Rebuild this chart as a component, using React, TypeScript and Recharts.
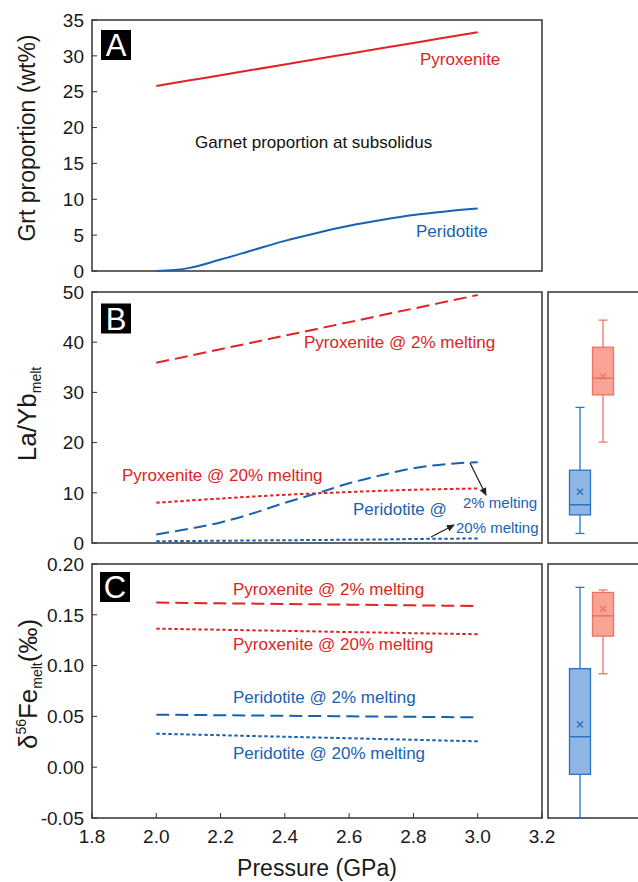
import React from 'react';
import { LineChart, Line, XAxis, YAxis, ReferenceArea, ComposedChart, Bar } from 'recharts';

// ---------- data ----------
const pressure = [2.0, 2.1, 2.2, 2.3, 2.4, 2.5, 2.6, 2.7, 2.8, 2.9, 3.0];
const xTicks = [1.8, 2.0, 2.2, 2.4, 2.6, 2.8, 3.0, 3.2];

// Panel A: garnet proportion at subsolidus (wt%)
const grtPyroxenite = [25.8, 26.55, 27.3, 28.05, 28.8, 29.55, 30.3, 31.05, 31.8, 32.55, 33.3];
const grtPeridotite = [0.0, 0.4, 1.6, 2.9, 4.2, 5.3, 6.3, 7.1, 7.8, 8.3, 8.7];
const yTicksA = [0, 5, 10, 15, 20, 25, 30, 35];

// Panel B: La/Yb of melt
const laybPyx2 = [35.9, 37.25, 38.6, 39.95, 41.3, 42.65, 44.0, 45.35, 46.7, 48.05, 49.4];
const laybPyx20 = [8.0, 8.45, 8.85, 9.25, 9.6, 9.9, 10.15, 10.4, 10.6, 10.75, 10.85];
const laybPer2 = [1.7, 2.8, 4.1, 5.9, 8.0, 9.9, 11.9, 13.5, 14.9, 15.7, 16.1];
const laybPer20 = [0.35, 0.4, 0.45, 0.5, 0.55, 0.6, 0.65, 0.7, 0.8, 0.85, 0.9];
const yTicksB = [0, 10, 20, 30, 40, 50];

// Panel C: d56Fe of melt
const fePyx2 = [0.162, 0.1617, 0.1613, 0.161, 0.1607, 0.1603, 0.16, 0.1597, 0.1593, 0.159, 0.1587];
const fePyx20 = [0.1364, 0.1358, 0.1353, 0.1347, 0.1342, 0.1336, 0.133, 0.1325, 0.1319, 0.1314, 0.1308];
const fePer2 = [0.0517, 0.0514, 0.0512, 0.0509, 0.0506, 0.0504, 0.0501, 0.0498, 0.0496, 0.0493, 0.0491];
const fePer20 = [0.033, 0.0322, 0.0315, 0.0307, 0.03, 0.0292, 0.0285, 0.0277, 0.027, 0.0262, 0.0255];
const yTicksC = [-0.05, 0, 0.05, 0.1, 0.15, 0.2];

// Box plots (natural samples): Peridotite-derived (blue), Pyroxenite-derived (red)
const boxGroups = ['Peridotite', 'Pyroxenite'];
const laybBoxMin = [1.9, 20.1];
const laybBoxQ1 = [5.6, 29.5];
const laybBoxMedian = [7.6, 32.8];
const laybBoxQ3 = [14.5, 39.0];
const laybBoxMax = [27.0, 44.4];
const laybBoxMean = [10.2, 33.2];

const feBoxMin = [-0.05, 0.092];
const feBoxQ1 = [-0.007, 0.129];
const feBoxMedian = [0.030, 0.149];
const feBoxQ3 = [0.097, 0.172];
const feBoxMax = [0.177, 0.1745];
const feBoxMean = [0.042, 0.156];

// ---------- styles ----------
const RED = '#e02424';
const BLUE = '#1862b2';
const FRAME = '#333';
const FONT = '"Liberation Sans", Arial, sans-serif';
const boxStyles = [
  { fill: '#8fb6e3', stroke: '#2a72c2' },
  { fill: '#f9a394', stroke: '#ee7462' },
];

// ---------- tables ----------
const tableA = pressure.map((p, i) => ({ p, pyx: grtPyroxenite[i], per: grtPeridotite[i] }));
const tableB = pressure.map((p, i) => ({
  p, pyx2: laybPyx2[i], pyx20: laybPyx20[i], per2: laybPer2[i], per20: laybPer20[i],
}));
const tableC = pressure.map((p, i) => ({
  p, pyx2: fePyx2[i], pyx20: fePyx20[i], per2: fePer2[i], per20: fePer20[i],
}));
const makeBox = (mn: number[], q1: number[], md: number[], q3: number[], mx: number[], mean: number[]) =>
  boxGroups.map((g, i) => ({
    idx: i, group: g, range: [mn[i], mx[i]], min: mn[i], q1: q1[i], med: md[i], q3: q3[i], max: mx[i], mean: mean[i],
  }));
const boxTableB = makeBox(laybBoxMin, laybBoxQ1, laybBoxMedian, laybBoxQ3, laybBoxMax, laybBoxMean);
const boxTableC = makeBox(feBoxMin, feBoxQ1, feBoxMedian, feBoxQ3, feBoxMax, feBoxMean);

const BoxShape = (props: any) => {
  const { x, y, width, height } = props;
  const d = props.payload || props;
  const st = boxStyles[d.idx];
  const top = Math.min(y, y + height);
  const h = Math.abs(height);
  const py = (v: number) => top + (h * (d.max - v)) / (d.max - d.min);
  const cx = x + width / 2;
  const cap = 4.5;
  const m = 3;
  return (
    <g>
      <line x1={cx} x2={cx} y1={py(d.max)} y2={py(d.q3)} stroke={st.stroke} strokeWidth={1.3} />
      <line x1={cx} x2={cx} y1={py(d.q1)} y2={py(d.min)} stroke={st.stroke} strokeWidth={1.3} />
      <line x1={cx - cap} x2={cx + cap} y1={py(d.max)} y2={py(d.max)} stroke={st.stroke} strokeWidth={1.3} />
      <line x1={cx - cap} x2={cx + cap} y1={py(d.min)} y2={py(d.min)} stroke={st.stroke} strokeWidth={1.3} />
      <rect x={x} y={py(d.q3)} width={width} height={py(d.q1) - py(d.q3)} fill={st.fill} stroke={st.stroke} strokeWidth={1.3} />
      <line x1={x} x2={x + width} y1={py(d.med)} y2={py(d.med)} stroke={st.stroke} strokeWidth={1.5} />
      <line x1={cx - m} x2={cx + m} y1={py(d.mean) - m} y2={py(d.mean) + m} stroke={st.stroke} strokeWidth={1.3} />
      <line x1={cx - m} x2={cx + m} y1={py(d.mean) + m} y2={py(d.mean) - m} stroke={st.stroke} strokeWidth={1.3} />
    </g>
  );
};

const tickStyle = { fontSize: 19, fill: '#1a1a1a' };
const LONG = '13 6';
const SHORT = '3.5 2.5';
const boxXDomain = [-1.391, 2.87];

export default function App() {
  return (
    <div
      style={{
        position: 'absolute', left: 0, top: 0, width: 638, height: 882, overflow: 'hidden',
        background: '#fff', fontFamily: FONT,
      }}
    >
      {/* Panel A */}
      <div style={{ position: 'absolute', left: 0, top: 0 }}>
        <LineChart width={560} height={290} data={tableA} margin={{ top: 20, right: 18, bottom: 0, left: 0 }}>
          <XAxis dataKey="p" type="number" domain={[1.8, 3.2]} ticks={xTicks} interval={0} height={19}
            tick={false} tickSize={-5} axisLine={false} tickLine={{ stroke: FRAME }} />
          <YAxis type="number" domain={[0, 35]} ticks={yTicksA} interval={0} width={92} tickSize={-5}
            tickMargin={13} axisLine={false} tick={tickStyle} tickLine={{ stroke: FRAME }} />
          <ReferenceArea y1={0} y2={35} fill="none" stroke={FRAME} strokeWidth={1.5} />
          <Line dataKey="pyx" type="monotone" stroke={RED} strokeWidth={2} dot={false} isAnimationActive={false} />
          <Line dataKey="per" type="monotone" stroke={BLUE} strokeWidth={2} dot={false} isAnimationActive={false} />
        </LineChart>
      </div>

      {/* Panel B */}
      <div style={{ position: 'absolute', left: 0, top: 280 }}>
        <LineChart width={560} height={281} data={tableB} margin={{ top: 12, right: 18, bottom: 0, left: 0 }}>
          <XAxis dataKey="p" type="number" domain={[1.8, 3.2]} ticks={xTicks} interval={0} height={18}
            tick={false} tickSize={-5} axisLine={false} tickLine={{ stroke: FRAME }} />
          <YAxis type="number" domain={[0, 50]} ticks={yTicksB} interval={0} width={92} tickSize={-5}
            tickMargin={13} axisLine={false} tick={tickStyle} tickLine={{ stroke: FRAME }} />
          <ReferenceArea y1={0} y2={50} fill="none" stroke={FRAME} strokeWidth={1.5} />
          <Line dataKey="pyx2" type="monotone" stroke={RED} strokeWidth={2} strokeDasharray={LONG} dot={false} isAnimationActive={false} />
          <Line dataKey="pyx20" type="monotone" stroke={RED} strokeWidth={2} strokeDasharray={SHORT} dot={false} isAnimationActive={false} />
          <Line dataKey="per2" type="monotone" stroke={BLUE} strokeWidth={2} strokeDasharray={LONG} dot={false} isAnimationActive={false} />
          <Line dataKey="per20" type="monotone" stroke={BLUE} strokeWidth={2} strokeDasharray={SHORT} dot={false} isAnimationActive={false} />
        </LineChart>
      </div>

      {/* Panel C */}
      <div style={{ position: 'absolute', left: 0, top: 552 }}>
        <LineChart width={560} height={330} data={tableC} margin={{ top: 12, right: 18, bottom: 0, left: 0 }}>
          <XAxis dataKey="p" type="number" domain={[1.8, 3.2]} ticks={xTicks} interval={0} height={64}
            tickSize={-5} tickMargin={17} axisLine={false} tick={tickStyle} tickLine={{ stroke: FRAME }}
            tickFormatter={(v: number) => v.toFixed(1)}
            label={{ value: 'Pressure (GPa)', position: 'insideBottom', offset: 6, fontSize: 23, fill: '#1a1a1a' }} />
          <YAxis type="number" domain={[-0.05, 0.2]} ticks={yTicksC} interval={0} width={92} tickSize={-5}
            tickMargin={13} axisLine={false} tick={tickStyle} tickLine={{ stroke: FRAME }}
            tickFormatter={(v: number) => v.toFixed(2)} />
          <ReferenceArea y1={-0.05} y2={0.2} fill="none" stroke={FRAME} strokeWidth={1.5} />
          <Line dataKey="pyx2" type="monotone" stroke={RED} strokeWidth={2} strokeDasharray={LONG} dot={false} isAnimationActive={false} />
          <Line dataKey="pyx20" type="monotone" stroke={RED} strokeWidth={2} strokeDasharray={SHORT} dot={false} isAnimationActive={false} />
          <Line dataKey="per2" type="monotone" stroke={BLUE} strokeWidth={2} strokeDasharray={LONG} dot={false} isAnimationActive={false} />
          <Line dataKey="per20" type="monotone" stroke={BLUE} strokeWidth={2} strokeDasharray={SHORT} dot={false} isAnimationActive={false} />
        </LineChart>
      </div>

      {/* Box panel B */}
      <div style={{ position: 'absolute', left: 540, top: 280 }}>
        <ComposedChart width={110} height={281} data={boxTableB} margin={{ top: 12, right: 4, bottom: 18, left: 8 }}>
          <XAxis dataKey="idx" type="number" domain={boxXDomain} hide allowDataOverflow />
          <YAxis type="number" domain={[0, 50]} hide />
          <ReferenceArea y1={0} y2={50} fill="none" stroke={FRAME} strokeWidth={1.5} />
          <Bar dataKey="range" barSize={21} shape={BoxShape} isAnimationActive={false} />
        </ComposedChart>
      </div>

      {/* Box panel C */}
      <div style={{ position: 'absolute', left: 540, top: 552 }}>
        <ComposedChart width={110} height={330} data={boxTableC} margin={{ top: 12, right: 4, bottom: 64, left: 8 }}>
          <XAxis dataKey="idx" type="number" domain={boxXDomain} hide allowDataOverflow />
          <YAxis type="number" domain={[-0.05, 0.2]} hide />
          <ReferenceArea y1={-0.05} y2={0.2} fill="none" stroke={FRAME} strokeWidth={1.5} />
          <Bar dataKey="range" barSize={21} shape={BoxShape} isAnimationActive={false} />
        </ComposedChart>
      </div>

      {/* Annotations */}
      <svg width={638} height={882} style={{ position: 'absolute', left: 0, top: 0, pointerEvents: 'none', fontFamily: FONT }}>
        <defs>
          <marker id="ah" markerWidth={8} markerHeight={8} refX={7} refY={4} orient="auto" markerUnits="userSpaceOnUse">
            <path d="M0,0.5 L8,4 L0,7.5 z" fill="#222" />
          </marker>
        </defs>

        {/* panel letters */}
        <rect x={101} y={30} width={30} height={30} fill="#000" />
        <text x={116} y={56} textAnchor="middle" fill="#fff" fontSize={31}>A</text>
        <rect x={101} y={303.5} width={30} height={30} fill="#000" />
        <text x={116} y={329.5} textAnchor="middle" fill="#fff" fontSize={31}>B</text>
        <rect x={100} y={572} width={30} height={30} fill="#000" />
        <text x={115} y={598} textAnchor="middle" fill="#fff" fontSize={31}>C</text>

        {/* axis titles */}
        <text transform="translate(35,138) rotate(-90)" textAnchor="middle" fontSize={23} fill="#1a1a1a">Grt proportion (wt%)</text>
        <text transform="translate(36,414) rotate(-90)" textAnchor="middle" fontSize={26} fill="#1a1a1a">
          La/Yb<tspan fontSize={14} dy={5}>melt</tspan>
        </text>
        <text transform="translate(37,684) rotate(-90)" textAnchor="middle" fontSize={26} fill="#1a1a1a">
          δ<tspan fontSize={14} dy={-11}>56</tspan><tspan dy={11}>Fe</tspan><tspan fontSize={14} dy={5}>melt</tspan><tspan dy={-5}>(‰)</tspan>
        </text>

        {/* panel A labels */}
        <text x={420} y={65} fontSize={17} fill={RED}>Pyroxenite</text>
        <text x={195} y={148} fontSize={17} fill="#111">Garnet proportion at subsolidus</text>
        <text x={416} y={236.5} fontSize={17} fill={BLUE}>Peridotite</text>

        {/* panel B labels */}
        <text x={304} y={348} fontSize={17} fill={RED}>Pyroxenite @ 2% melting</text>
        <text x={122} y={481} fontSize={17} fill={RED}>Pyroxenite @ 20% melting</text>
        <text x={353} y={515} fontSize={17} fill={BLUE}>Peridotite @</text>
        <text x={463} y={508} fontSize={15} fill={BLUE}>2% melting</text>
        <text x={456} y={533} fontSize={15} fill={BLUE}>20% melting</text>
        <line x1={470} y1={463} x2={486} y2={495} stroke="#222" strokeWidth={1.2} markerEnd="url(#ah)" />
        <line x1={431} y1={537} x2={454} y2={525} stroke="#222" strokeWidth={1.2} markerEnd="url(#ah)" />

        {/* panel C labels */}
        <text x={233} y={595} fontSize={17} fill={RED}>Pyroxenite @ 2% melting</text>
        <text x={233} y={650} fontSize={17} fill={RED}>Pyroxenite @ 20% melting</text>
        <text x={233} y={703} fontSize={17} fill={BLUE}>Peridotite @ 2% melting</text>
        <text x={233} y={759} fontSize={17} fill={BLUE}>Peridotite @ 20% melting</text>
      </svg>
    </div>
  );
}
